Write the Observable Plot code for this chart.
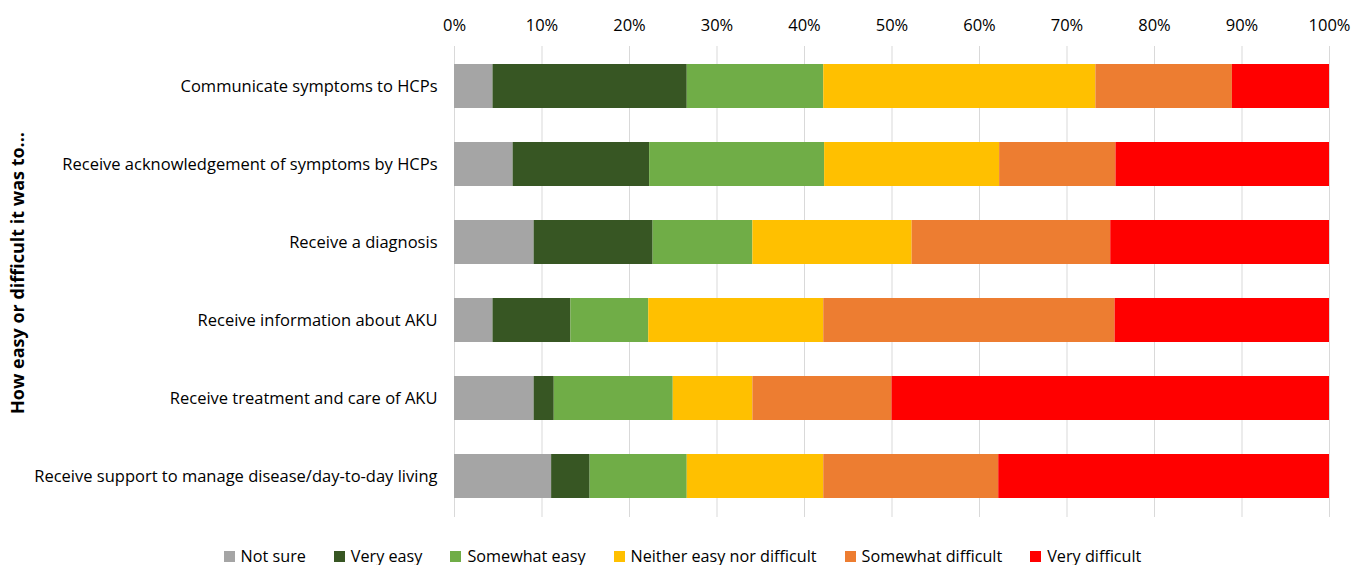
<!DOCTYPE html>
<html>
<head>
<meta charset="utf-8">
<script src="https://cdn.jsdelivr.net/npm/d3@7"></script>
<script src="https://cdn.jsdelivr.net/npm/@observablehq/plot@0.6"></script>
<style>
  body { margin: 0; background: #fff; font-family: "Open Sans", sans-serif; }
  #legend { display: flex; justify-content: center; gap: 28px; font-size: 16.2px; color: #000; height: 30px; align-items: center; margin-top: 4px; }
  #legend .item { display: flex; align-items: center; gap: 6px; }
  #legend .sw { width: 11px; height: 11px; display: inline-block; }
</style>
</head>
<body>
<div id="chart"></div>
<div id="legend"></div>
<script>
const categories = [
  "Communicate symptoms to HCPs",
  "Receive acknowledgement of symptoms by HCPs",
  "Receive a diagnosis",
  "Receive information about AKU",
  "Receive treatment and care of AKU",
  "Receive support to manage disease/day-to-day living"
];
const seriesNames = ["Not sure", "Very easy", "Somewhat easy", "Neither easy nor difficult", "Somewhat difficult", "Very difficult"];
const seriesColors = ["#A5A5A5", "#375623", "#70AD47", "#FFC000", "#ED7D31", "#FF0000"];
const notSure     = [4.4, 6.7, 9.1, 4.4, 9.1, 11.1];
const veryEasy    = [22.2, 15.6, 13.6, 8.9, 2.3, 4.4];
const somewhatEasy= [15.6, 20.0, 11.4, 8.9, 13.6, 11.1];
const neither     = [31.1, 20.0, 18.2, 20.0, 9.1, 15.6];
const somewhatDiff= [15.6, 13.3, 22.7, 33.3, 15.9, 20.0];
const veryDiff    = [11.1, 24.4, 25.0, 24.5, 50.0, 37.8];
const tickValues = [0, 10, 20, 30, 40, 50, 60, 70, 80, 90, 100];

const seriesValues = [notSure, veryEasy, somewhatEasy, neither, somewhatDiff, veryDiff];
const rows = [];
seriesNames.forEach((s, si) => {
  categories.forEach((c, ci) => rows.push({category: c, series: s, value: seriesValues[si][ci]}));
});

const chart = Plot.plot({
  width: 1365,
  height: 537,
  marginTop: 46,
  marginBottom: 20,
  marginLeft: 454,
  marginRight: 36,
  style: {fontFamily: "Open Sans, sans-serif", fontSize: "16.5px", color: "#000"},
  x: {domain: [0, 100], axis: "top", ticks: tickValues, tickFormat: d => d + "%", tickSize: 0, tickPadding: 16, label: null},
  y: {domain: categories, paddingInner: 0.43, paddingOuter: 0.22, tickSize: 0, tickPadding: 17, label: null},
  color: {domain: seriesNames, range: seriesColors},
  marks: [
    Plot.ruleX(tickValues, {stroke: "#D9D9D9", strokeWidth: 1}),
    Plot.barX(rows, Plot.stackX({y: "category", x: "value", fill: "series", order: seriesNames})),
    Plot.text(["How easy or difficult it was to..."], {frameAnchor: "left", dx: -436, dy: -9, rotate: -90, textAnchor: "middle", fontWeight: "bold", fontSize: 18, text: d => d})
  ]
});
document.getElementById("chart").appendChild(chart);

const legend = document.getElementById("legend");
seriesNames.forEach((s, i) => {
  const item = document.createElement("div");
  item.className = "item";
  item.innerHTML = `<span class="sw" style="background:${seriesColors[i]}"></span><span>${s}</span>`;
  legend.appendChild(item);
});
</script>
</body>
</html>
